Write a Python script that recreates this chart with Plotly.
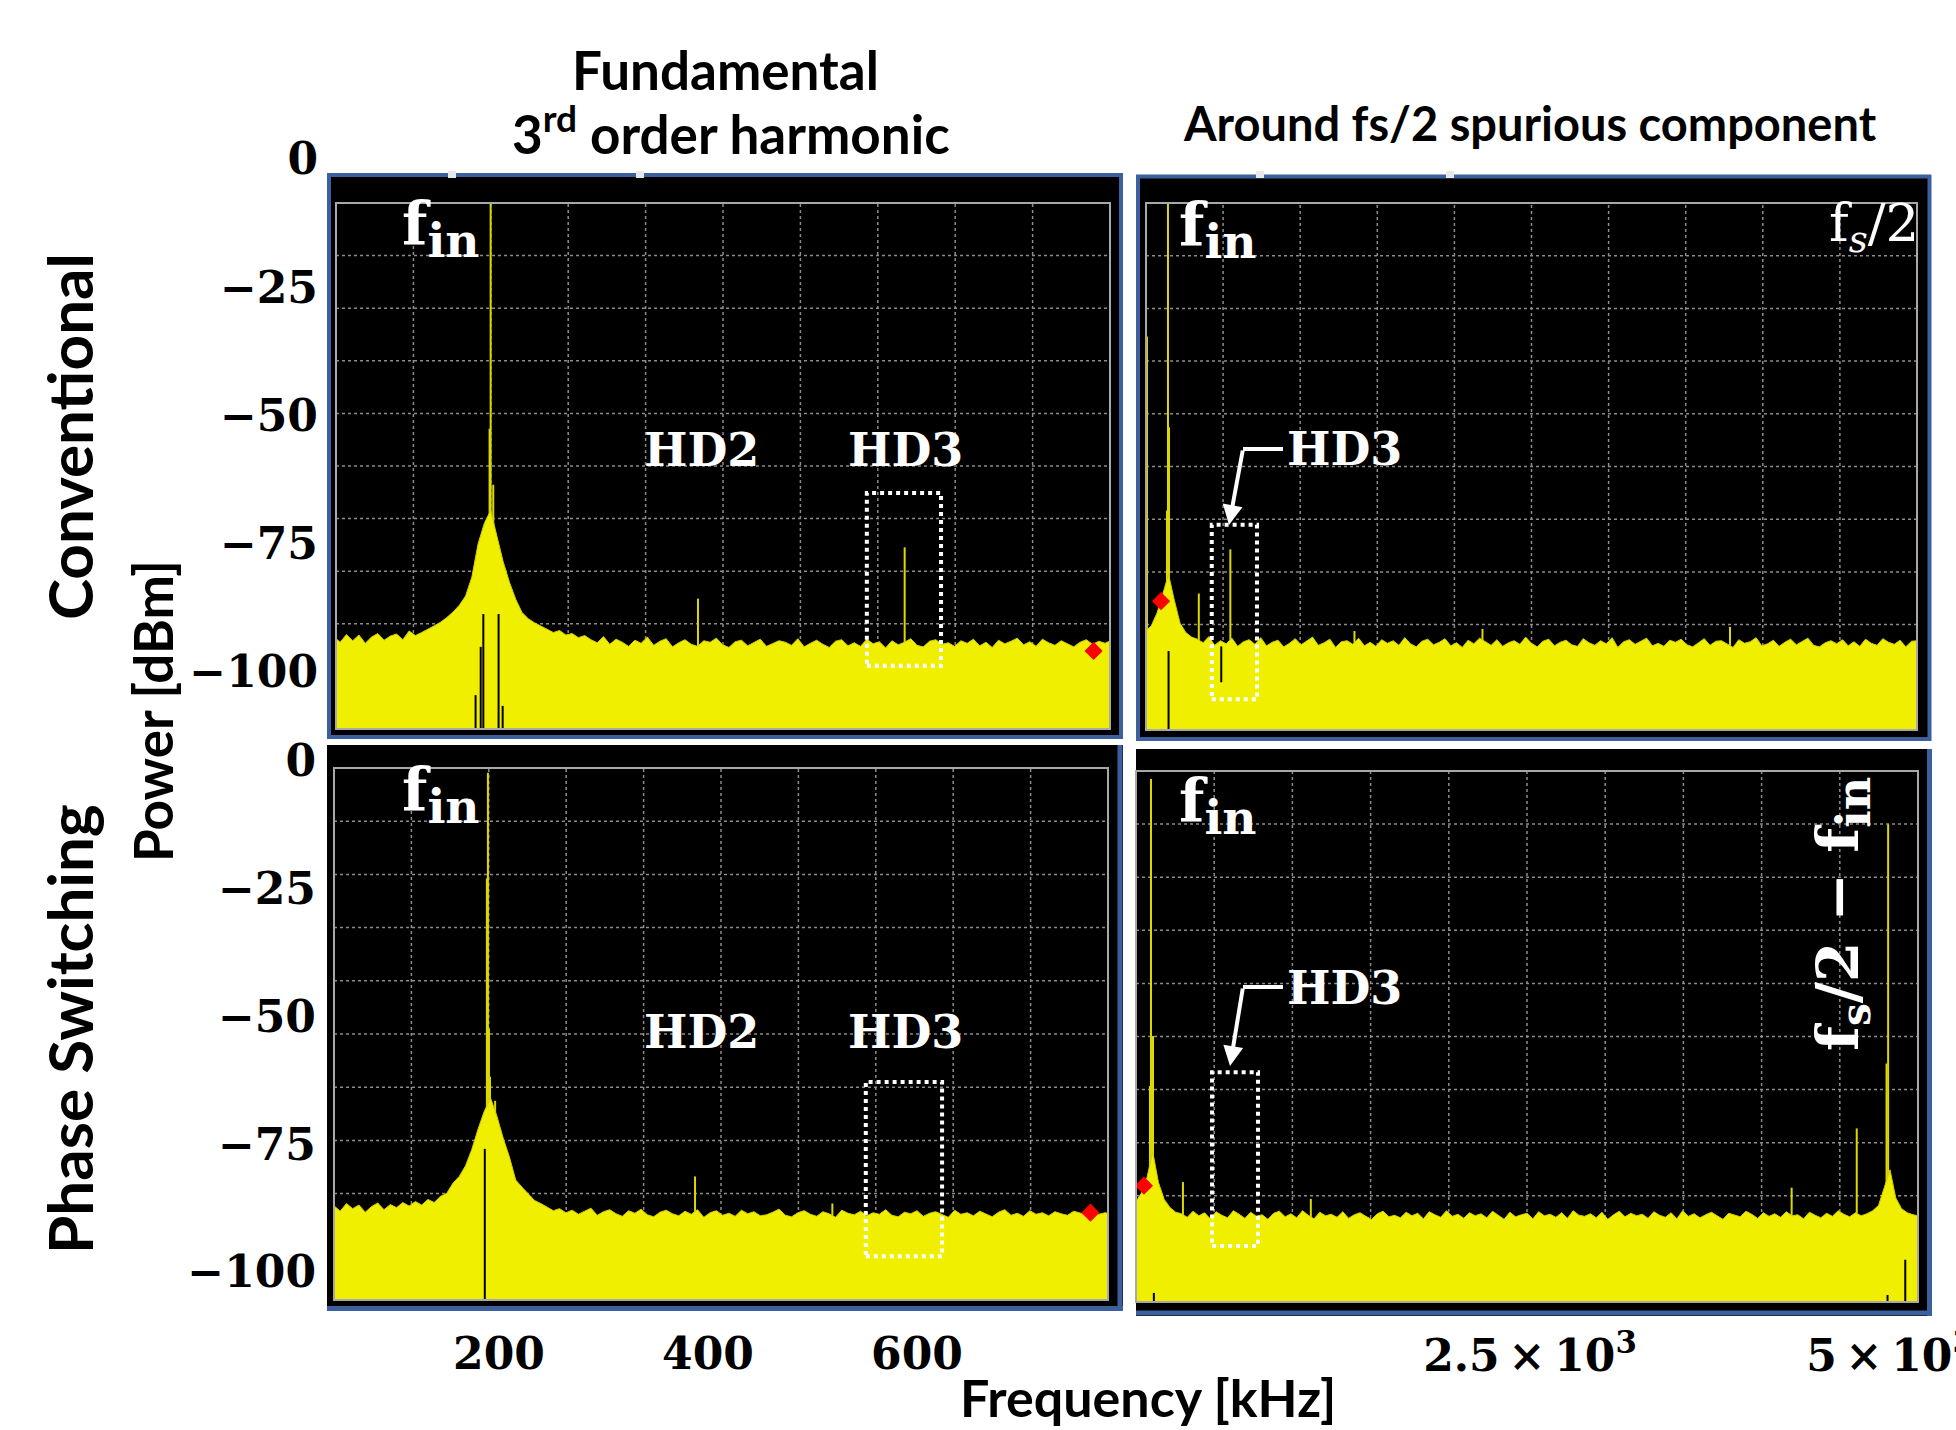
import plotly.graph_objects as go

W, H = 1956, 1430

# ---------------- data ----------------
y_tick_vals = [0, -25, -50, -75, -100]
x_ticks_left = [200, 400, 600]
x_ticks_right = [2500, 5000]
x_ticktext_right = ["2.5\u2009×\u200910<sup>3</sup>", "5\u2009×\u200910<sup>3</sup>"]

# Conventional, fundamental / HD3 view (kHz, dBm)
tl_floor_start, tl_floor_step = 42, 6
tl_floor_p = [
    -93.1, -94.2, -92.7, -93.9, -92.8, -94.4, -93.2, -92.5, -93.8, -93.0, -92.6, -93.7, -92.0, -92.9, -92.3, -91.7, -91.0,
    -90.3, -89.4, -88.3, -87.0, -85.2, -81.5, -75.0, -71.0, -68.5, -73.5, -78.5, -82.5, -85.8, -88.4, -89.6, -90.4, -91.0,
    -91.6, -92.3, -91.9, -92.8, -92.5, -93.3, -92.9, -93.7, -94.3, -93.1, -94.6,
    -93.6, -94.2, -95.0, -93.8, -94.4, -93.2, -94.8, -94.0, -93.5, -95.1,
    -94.3, -93.7, -94.6, -95.0, -93.9, -94.2, -93.4, -94.7, -95.2, -94.1,
    -93.8, -94.9, -94.3, -93.6, -95.0, -94.5, -93.9, -94.2, -94.8, -93.5,
    -95.1, -94.4, -93.8, -94.6, -95.2, -94.0, -93.7, -94.9, -94.3, -95.0,
    -93.6, -94.5, -94.1, -95.3, -93.9, -94.7, -94.2, -93.5, -94.8, -95.1,
    -94.0, -93.7, -94.6, -94.3, -95.0, -93.9, -94.4, -93.6, -94.9, -94.2,
    -95.2, -93.8, -94.5, -94.0, -93.4, -94.7, -94.1, -95.0, -93.6, -94.3,
    -94.8, -93.9, -94.5, -95.1, -94.2, -93.7, -94.6, -94.0, -94.4, -93.8,
]
tl_spur_f = [192, 191, 194.5, 390.4, 588.2]
tl_spur_p = [-8.5, -52.6, -63.5, -85.7, -75.7]
tl_dip_f = [177.6, 182.5, 185.0, 199.6, 203.5]
tl_dip_hi = [-104.5, -95.1, -88.7, -88.7, -106.6]
tl_dip_lo = [-120, -120, -120, -120, -120]
tl_marker = (769, -95.9)
tl_hd3_box = ([552, 623], [-98.8, -65.1])

# Conventional, wide view up to fs/2
tr_floor_start, tr_floor_step = -170, 40
tr_floor_p = [
    -92.0, -91.0, -88.5, -84.5, -81.0, -86.0, -90.5, -92.3, -93.2,
    -93.6, -94.3, -93.1, -94.8, -93.9, -94.5, -93.4, -95.0, -94.1, -93.7,
    -94.6, -93.3, -94.9, -94.2, -93.8, -95.1, -94.4, -93.5, -94.7, -94.0,
    -93.2, -94.8, -94.3, -93.6, -95.2, -94.1, -93.9, -94.6, -93.4, -94.9,
    -94.2, -95.0, -93.7, -94.4, -93.9, -94.8, -93.3, -94.5, -95.1, -94.0,
    -93.6, -94.7, -94.2, -93.5, -94.9, -94.3, -95.2, -93.8, -94.5, -93.4,
    -94.1, -94.8, -93.7, -95.0, -94.3, -93.9, -94.6, -93.2, -94.4, -95.1,
    -94.0, -93.6, -94.9, -94.2, -93.8, -94.7, -95.0, -93.5, -94.3, -94.8,
    -93.9, -94.5, -93.3, -95.2, -94.1, -93.7, -94.6, -94.0, -93.4, -94.9,
    -94.4, -95.0, -93.8, -94.2, -93.6, -94.7, -95.1, -94.3, -93.5, -94.8,
    -94.0, -93.9, -94.6, -95.2, -93.7, -94.4, -94.1, -93.3, -94.9, -94.5,
    -93.8, -95.0, -94.2, -93.6, -94.7, -94.0, -93.4, -94.8, -95.1, -94.3,
    -93.9, -94.5, -93.7, -94.9, -94.1, -95.0, -93.6, -94.4, -94.8, -93.5,
    -94.2, -94.6, -93.8, -95.1, -94.0, -93.9, -94.5,
]
tr_spur_f = [-160, -14, -7, -21, 200, 419, 1281, 2170, 3889]
tr_spur_p = [-34.6, -8.5, -52.3, -68.5, -84.7, -76.1, -92.0, -91.6, -91.2]
tr_dip_f = [-10, 356]
tr_dip_hi = [-95.9, -95.0]
tr_dip_lo = [-120, -102.0]
tr_marker = (-62, -86.2)
tr_hd3_box = ([290, 604], [-105.3, -71.3])

# Phase switching, fundamental / HD3 view
bl_floor_start, bl_floor_step = 42, 6
bl_floor_p = [
    -87.0, -88.1, -86.6, -87.6, -86.9, -88.3, -87.2, -86.5, -87.8, -86.8, -87.4, -86.4, -87.1, -86.2, -86.9, -85.8,
    -86.4, -85.2, -84.6, -82.6, -81.3, -79.2, -76.0, -72.0, -68.5, -66.0, -69.5, -73.8, -77.5, -82.0, -83.4, -84.8, -86.0, -86.6,
    -87.3, -88.0, -87.6, -88.4, -87.9, -88.7, -88.1, -87.5, -88.9, -88.2,
    -87.8, -88.6, -89.1, -88.0, -88.5, -87.7, -88.8, -89.2, -88.3, -87.9,
    -88.6, -89.0, -88.1, -88.7, -87.8, -89.3, -88.4, -88.0, -88.9, -88.5,
    -89.1, -87.9, -88.6, -88.2, -89.0, -88.8, -88.3, -87.7, -88.9, -89.2,
    -88.4, -88.0, -88.7, -89.1, -88.2, -88.6, -89.3, -87.9, -88.5, -88.8,
    -88.1, -89.0, -88.4, -88.7, -87.8, -88.9, -89.2, -88.3, -88.6, -88.0,
    -89.1, -88.5, -88.2, -88.8, -89.3, -87.9, -88.7, -88.4, -89.0, -88.1,
    -88.6, -89.2, -88.3, -87.8, -88.9, -88.5, -89.1, -88.0, -88.7, -88.4,
    -89.0, -88.2, -88.6, -88.9, -88.1, -88.5, -88.8, -88.3, -88.7, -88.4, -88.6,
]
bl_spur_f = [189.4, 188.4, 190.4, 191.4, 196.3, 387.6, 519]
bl_spur_p = [-2.3, -23.0, -52.4, -61.8, -66.5, -81.3, -86.6]
bl_dip_f = [186.4]
bl_dip_hi = [-75.9]
bl_dip_lo = [-120]
bl_marker = (766, -88.4)
bl_hd3_box = ([551, 624], [-96.9, -62.8])

# Phase switching, wide view up to fs/2
br_floor_start, br_floor_step = -240, 40
br_floor_p = [
    -86.4, -84.6, -81.5, -76.5, -82.5, -85.8, -87.4, -88.3,
    -88.6, -89.3, -88.1, -89.0, -88.4, -89.6, -88.2, -88.9, -89.4, -88.0,
    -88.7, -89.5, -88.3, -89.1, -88.8, -89.7, -88.5, -88.1, -89.2, -88.6,
    -89.4, -88.0, -88.9, -89.6, -88.3, -89.0, -88.7, -89.3, -88.2, -89.5,
    -88.8, -88.4, -89.1, -89.7, -88.6, -88.1, -89.2, -88.9, -89.4, -88.3,
    -89.0, -88.5, -89.6, -88.2, -88.8, -89.3, -88.0, -89.1, -88.7, -89.5,
    -88.4, -89.0, -88.6, -89.4, -88.1, -88.9, -89.7, -88.3, -89.2, -88.8,
    -88.5, -89.6, -88.2, -89.0, -88.7, -89.3, -88.4, -89.5, -88.0, -88.9,
    -89.1, -88.6, -89.4, -88.3, -89.7, -88.8, -88.1, -89.2, -88.5, -89.0,
    -88.7, -89.5, -88.2, -88.9, -89.3, -88.4, -89.6, -88.0, -89.1, -88.6,
    -89.4, -88.8, -88.3, -89.0, -89.7, -88.5, -88.9, -89.2, -88.1, -88.7,
    -89.5, -88.4, -89.1, -88.6, -89.3, -88.2, -89.0, -88.8, -89.6, -88.3,
    -88.9, -89.4, -88.5, -89.1, -88.0, -88.7, -89.2, -88.4, -89.0, -88.6,
    -88.0, -87.0, -83.5, -80.0, -85.5, -87.6, -88.4, -88.8, -89.0, -88.6,
]
br_spur_f = [-132, -118, -139, 90, 978, 4317, 4769, 4987, 4976]
br_spur_p = [-3.5, -53.8, -63.6, -82.4, -85.7, -83.5, -71.9, -12.4, -59.2]
br_dip_f = [-112, 4983, 5106]
br_dip_hi = [-104.1, -104.5, -97.6]
br_dip_lo = [-120, -120, -120]
br_marker = (-181, -83.1)
br_hd3_box = ([292, 611], [-94.9, -60.9])

# ---------------- layout geometry (pixels) ----------------
# plot boxes: x0, x1, y0, y1
BOX = {
    "tl": (336, 1110, 203, 729),
    "tr": (1146, 1917, 203, 730),
    "bl": (334, 1108, 768, 1300),
    "br": (1136, 1918, 771, 1302),
}
# axis calibration: (pixel of 0, pixels per unit)
XMAP = {"l": (290, 1.045), "r": (1170, 0.144)}
YMAP = {"t": (159, 5.13), "b": (761, 5.11)}
PANEL_MAP = {"tl": ("l", "t"), "tr": ("r", "t"), "bl": ("l", "b"), "br": ("r", "b")}
AXN = {"tl": "", "tr": "2", "bl": "3", "br": "4"}

YEL = "#F1EF00"
SPUR = "#DCD800"
EDGE = "#D2CE00"
BLUE = "#3C5F9E"
GRID = "#8C8C8C"

SERIF = "DejaVu Serif"
SANS = "Lato"


def px(x):
    return x / W


def py(y):
    return 1 - y / H


def ranges(key):
    x0, x1, y0, y1 = BOX[key]
    xm, ym = PANEL_MAP[key]
    ox, sx = XMAP[xm]
    oy, sy = YMAP[ym]
    xr = [(x0 - ox) / sx, (x1 - ox) / sx]
    yr = [-(y1 - oy) / sy, -(y0 - oy) / sy]
    return xr, yr


fig = go.Figure()

panel_data = {
    "tl": (tl_floor_start, tl_floor_step, tl_floor_p, tl_spur_f, tl_spur_p, tl_dip_f, tl_dip_hi, tl_dip_lo, tl_marker),
    "tr": (tr_floor_start, tr_floor_step, tr_floor_p, tr_spur_f, tr_spur_p, tr_dip_f, tr_dip_hi, tr_dip_lo, tr_marker),
    "bl": (bl_floor_start, bl_floor_step, bl_floor_p, bl_spur_f, bl_spur_p, bl_dip_f, bl_dip_hi, bl_dip_lo, bl_marker),
    "br": (br_floor_start, br_floor_step, br_floor_p, br_spur_f, br_spur_p, br_dip_f, br_dip_hi, br_dip_lo, br_marker),
}

for key, (fs, fstep, fp, sf, sp, df, dhi, dlo, mk) in panel_data.items():
    n = AXN[key]
    xa, ya = "x" + n, "y" + n
    xr, yr = ranges(key)
    ybot = yr[0] - 10
    f = [fs + fstep * i for i in range(len(fp))]
    # discrete spectral lines (drawn first, so the noise fill hides their lower part)
    sx, sy = [], []
    for a, b in zip(sf, sp):
        sx += [a, a, None]
        sy += [ybot, b, None]
    fig.add_trace(go.Scatter(x=sx, y=sy, mode="lines", line=dict(color=SPUR, width=2),
                             xaxis=xa, yaxis=ya, showlegend=False))
    # noise floor, filled down to the bottom of the screen
    fig.add_trace(go.Scatter(x=f, y=[ybot] * len(f), mode="lines", line=dict(width=0),
                             xaxis=xa, yaxis=ya, hoverinfo="skip", showlegend=False))
    fig.add_trace(go.Scatter(x=f, y=fp, mode="lines", line=dict(color=EDGE, width=1),
                             fill="tonexty", fillcolor=YEL, xaxis=xa, yaxis=ya, showlegend=False))
    # notches
    dx, dy = [], []
    for a, hi, lo in zip(df, dhi, dlo):
        dx += [a, a, None]
        dy += [lo, hi, None]
    fig.add_trace(go.Scatter(x=dx, y=dy, mode="lines", line=dict(color="black", width=2),
                             xaxis=xa, yaxis=ya, showlegend=False))
    # marker
    fig.add_trace(go.Scatter(x=[mk[0]], y=[mk[1]], mode="markers",
                             marker=dict(symbol="diamond", size=14, color="#FF0000"),
                             xaxis=xa, yaxis=ya, showlegend=False))

# ---------------- axes ----------------
layout_axes = {}
for key in BOX:
    n = AXN[key]
    x0, x1, y0, y1 = BOX[key]
    xr, yr = ranges(key)
    xax = dict(domain=[px(x0), px(x1)], range=xr, anchor="y" + n, showgrid=False, zeroline=False,
               showline=False, ticks="", showticklabels=False, fixedrange=True, automargin=False)
    if key == "bl":
        xax.update(showticklabels=True, tickvals=x_ticks_left, ticktext=[str(v) for v in x_ticks_left])
    if key == "br":
        xax.update(showticklabels=True, tickvals=x_ticks_right, ticktext=x_ticktext_right)
    if key in ("bl", "br"):
        xax.update(tickfont=dict(family=SERIF, size=44, color="black", weight="bold"),
                   ticklabelstandoff=24, ticklabeloverflow="allow")
    yax = dict(domain=[py(y1), py(y0)], range=yr, anchor="x" + n, showgrid=False, zeroline=False,
               showline=False, ticks="", showticklabels=False, fixedrange=True, automargin=False)
    layout_axes["xaxis" + n] = xax
    layout_axes["yaxis" + n] = yax

# tick-label axes that also carry the 0 dBm label above each plot box
for lab_n, (row, xpos, ytop, ybottom) in {"5": ("t", 336, 140, 729), "6": ("b", 334, 745, 1300)}.items():
    oy, sy = YMAP[row]
    layout_axes["yaxis" + lab_n] = dict(
        domain=[py(ybottom), py(ytop)], range=[-(ybottom - oy) / sy, -(ytop - oy) / sy],
        anchor="free", position=px(xpos), showgrid=False, zeroline=False, showline=False,
        ticks="", tickvals=y_tick_vals, ticklabelstandoff=18, fixedrange=True, automargin=False,
        tickfont=dict(family=SERIF, size=44, color="black", weight="bold"))

# dummy traces so the label axes are drawn
fig.add_trace(go.Scatter(x=[None], y=[None], xaxis="x", yaxis="y5", showlegend=False, hoverinfo="skip"))
fig.add_trace(go.Scatter(x=[None], y=[None], xaxis="x3", yaxis="y6", showlegend=False, hoverinfo="skip"))

# ---------------- shapes ----------------
shapes = []
# panel frames
shapes.append(dict(type="rect", xref="paper", yref="paper", x0=px(329), x1=px(1121), y0=py(737), y1=py(175),
                   fillcolor="black", line=dict(color=BLUE, width=4), layer="below"))
shapes.append(dict(type="rect", xref="paper", yref="paper", x0=px(1138), x1=px(1929.5), y0=py(739), y1=py(176.5),
                   fillcolor="black", line=dict(color=BLUE, width=4), layer="below"))
shapes.append(dict(type="rect", xref="paper", yref="paper", x0=px(327), x1=px(1123), y0=py(1311), y1=py(745),
                   fillcolor="black", line=dict(width=0), layer="below"))
shapes.append(dict(type="rect", xref="paper", yref="paper", x0=px(1136), x1=px(1932), y0=py(1316), y1=py(749),
                   fillcolor="black", line=dict(width=0), layer="below"))
for (xa0, ya0, xa1, ya1) in [(1120, 745, 1120, 1311), (327, 1308.5, 1123, 1308.5),
                             (1929.5, 749, 1929.5, 1316), (1136, 1313, 1932, 1313)]:
    shapes.append(dict(type="line", xref="paper", yref="paper", x0=px(xa0), x1=px(xa1), y0=py(ya0), y1=py(ya1),
                       line=dict(color=BLUE, width=5), layer="below"))
# small light marks on the top frame edges
for xm in (452, 640, 1260, 1450):
    shapes.append(dict(type="rect", xref="paper", yref="paper", x0=px(xm - 4), x1=px(xm + 4), y0=py(178),
                       y1=py(171), fillcolor="#E8E8E8", line=dict(width=0), layer="above"))

# analyzer grid: 10 x 10 divisions
for key in BOX:
    n = AXN[key]
    for j in range(1, 10):
        shapes.append(dict(type="line", xref="x%s domain" % n, yref="y%s domain" % n, x0=j / 10, x1=j / 10,
                           y0=0, y1=1, line=dict(color=GRID, width=1.5, dash="dot"), layer="below"))
        shapes.append(dict(type="line", xref="x%s domain" % n, yref="y%s domain" % n, x0=0, x1=1,
                           y0=j / 10, y1=j / 10, line=dict(color=GRID, width=1.5, dash="dot"), layer="below"))
    shapes.append(dict(type="rect", xref="x%s domain" % n, yref="y%s domain" % n, x0=0, x1=1, y0=0, y1=1,
                       line=dict(color="#A8A8A8", width=2), layer="above"))

# HD3 dotted boxes
for key, (bx, by) in {"tl": tl_hd3_box, "tr": tr_hd3_box, "bl": bl_hd3_box, "br": br_hd3_box}.items():
    n = AXN[key]
    shapes.append(dict(type="rect", xref="x" + n, yref="y" + n, x0=bx[0], x1=bx[1], y0=by[0], y1=by[1],
                       line=dict(color="white", width=4, dash="dot"), layer="above"))

# HD3 leader lines (horizontal part)
for (a0, b0, a1, b1) in [(1283, 449, 1243, 449), (1283, 987, 1243, 987)]:
    shapes.append(dict(type="line", xref="paper", yref="paper", x0=px(a0), x1=px(a1), y0=py(b0), y1=py(b1),
                       line=dict(color="white", width=4), layer="above"))

# ---------------- annotations ----------------
ann = []


def text(x, y, s, size, family=SANS, color="black", weight="bold", angle=0, xanchor="center", yanchor="middle"):
    ann.append(dict(x=px(x), y=py(y), xref="paper", yref="paper", text=s, showarrow=False, textangle=angle,
                    xanchor=xanchor, yanchor=yanchor,
                    font=dict(family=family, size=size, color=color, weight=weight)))


text(725, 69, "Fundamental", 53)
text(731, 130, "3<sup>rd</sup> order harmonic", 53)
text(1530, 123, "Around fs/2 spurious component", 47)
text(69, 437, "Conventional", 62, angle=-90)
text(69, 1029, "Phase Switching", 62, angle=-90)
text(152, 711, "Power [dBm]", 53, angle=-90)
text(1148, 1397, "Frequency [kHz]", 52)

fin = 'f<sub><span style="font-size:47px">in</span></sub>'
for (x, y) in [(440, 229), (1217, 230), (440, 795), (1217, 806)]:
    text(x, y, fin, 59, family=SERIF, color="white")
for (x, y, s) in [(701, 450, "HD2"), (905, 450, "HD3"), (701, 1032, "HD2"), (905, 1032, "HD3"),
                  (1344, 449, "HD3"), (1344, 988, "HD3")]:
    text(x, y, s, 46, family=SERIF, color="white")
text(1874, 226, "f<sub><i>s</i></sub>/2", 53, family=SERIF, color="white", weight="normal")
text(1842, 914, 'f<sub>s</sub>/2 − f<sub><span style="font-size:46px">in</span></sub>', 58,
     family=SERIF, color="white", angle=-90)

# arrow heads of HD3 leaders
for (hx, hy, tx, ty) in [(1229, 525, 1243, 449), (1230, 1066, 1243, 987)]:
    ann.append(dict(x=px(hx), y=py(hy), xref="paper", yref="paper", ax=tx - hx, ay=ty - hy,
                    axref="pixel", ayref="pixel", text="", showarrow=True, arrowhead=2,
                    arrowsize=1, arrowwidth=4, arrowcolor="white"))

fig.update_layout(
    width=W, height=H, margin=dict(l=0, r=0, t=0, b=0, autoexpand=False),
    paper_bgcolor="white", plot_bgcolor="rgba(0,0,0,0)",
    showlegend=False, shapes=shapes, annotations=ann, **layout_axes,
)

fig.write_html("out.html", config={"displayModeBar": False},
               post_script="document.body.style.margin='0px';")
